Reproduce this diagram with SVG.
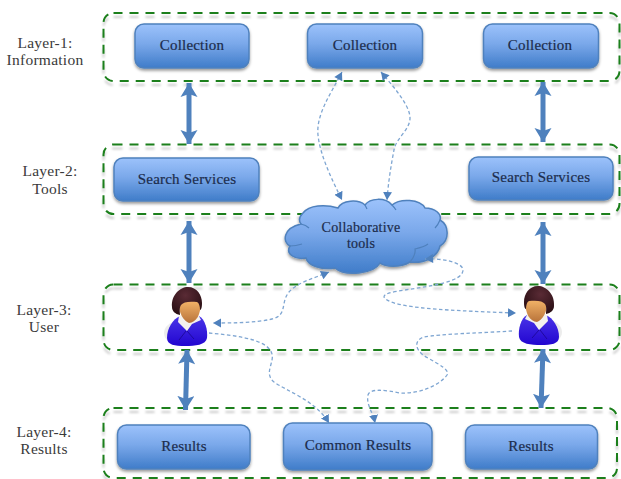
<svg xmlns="http://www.w3.org/2000/svg" xmlns:xlink="http://www.w3.org/1999/xlink" width="621" height="479" viewBox="0 0 621 479">
<style>
text{font-family:"Liberation Serif","Times New Roman",serif;text-anchor:middle}
.lbl{font-size:15.5px;fill:#3a3a3a;letter-spacing:.25px}
.nt{font-size:15px;fill:#1c2c4c;letter-spacing:.2px;stroke:#1c2c4c;stroke-width:.2px}
.layer{fill:none;stroke:#1b7f1b;stroke-width:2;stroke-dasharray:9 7;filter:url(#ls)}
.box{fill:url(#bg);stroke:#4f81bd;stroke-width:1.5;filter:url(#ds)}
.thick{fill:none;stroke:#4f81bd;stroke-width:5;marker-start:url(#hs);marker-end:url(#he)}
.dash{fill:none;stroke:#7fa6d2;stroke-width:1.3;stroke-dasharray:3.5 2.5}
</style>
<defs>
<linearGradient id="bg" x1="0" y1="0" x2="0" y2="1"><stop offset="0" stop-color="#9cc2fb"/><stop offset=".45" stop-color="#7aa8ea"/><stop offset="1" stop-color="#3f7cc9"/></linearGradient>
<linearGradient id="body" x1="0" y1="0" x2="0" y2="1"><stop offset="0" stop-color="#4a35e8"/><stop offset="1" stop-color="#2205d0"/></linearGradient>
<linearGradient id="face" x1="0" y1="0" x2="0" y2="1"><stop offset="0" stop-color="#f5b66a"/><stop offset="1" stop-color="#b8733a"/></linearGradient>
<radialGradient id="hair" cx=".45" cy=".3" r=".7"><stop offset="0" stop-color="#5a2b35"/><stop offset="1" stop-color="#2a0f14"/></radialGradient>
<filter id="ds" x="-10%" y="-15%" width="120%" height="135%"><feDropShadow dx="0" dy="2" stdDeviation="1.6" flood-color="#000" flood-opacity=".4"/></filter>
<filter id="ls" x="-2%" y="-10%" width="104%" height="125%"><feDropShadow dx="0" dy="4" stdDeviation="1.2" flood-color="#000" flood-opacity=".2"/></filter>
<marker id="he" markerUnits="userSpaceOnUse" markerWidth="18" markerHeight="18" refX="14" refY="8.500" orient="auto"><path d="M0 0L14 8.500L0 17L3 8.500Z" fill="#4f81bd"/></marker>
<marker id="hs" markerUnits="userSpaceOnUse" markerWidth="18" markerHeight="18" refX="0" refY="8.500" orient="auto"><path d="M14 0L0 8.500L14 17L11 8.500Z" fill="#4f81bd"/></marker>
<marker id="de" markerUnits="userSpaceOnUse" markerWidth="10" markerHeight="10" refX="8" refY="4.500" orient="auto"><path d="M0 0L8 4.500L0 9Z" fill="#4f81bd"/></marker>
<marker id="ds2" markerUnits="userSpaceOnUse" markerWidth="10" markerHeight="10" refX="0" refY="4.500" orient="auto"><path d="M8 0L0 4.500L8 9Z" fill="#4f81bd"/></marker>
<g id="person">
<ellipse cx="-4" cy="29" rx="19" ry="13" fill="#ececec"/>
<path d="M-20 34C-20 24-14 15-7 12L12 12C18 15 21 26 20 34C19 41 8 42-2 42C-12 42-20 41-20 34Z" fill="url(#body)"/>
<path d="M-8 12L-9 18L0 27L5 20L14 16L11 10L2 16L-3 9Z" fill="#f4f2ee"/>
<path d="M-1 27L-8 36M0 27L7 35" stroke="#1a0590" stroke-width=".8" fill="none"/>
<path d="M-8-4C-9 10-3 17 2 19C9 18 14 12 14-4Z" fill="url(#face)"/>
<path d="M-15 3C-16-9-7-17 1-17C10-17 15-9 15-1C15 4 14 6 13 6C13 2 12-1 10-2C2-3-4-2-6 1C-8 4-7 8-7 11C-12 10-15 7-15 3Z" fill="url(#hair)"/>
</g>
</defs>

<g id="layer-1"><rect class="layer" x="103.500" y="13" width="516" height="68" rx="10"/></g>
<g id="layer-2"><rect class="layer" x="103.500" y="144.500" width="516" height="69.500" rx="10"/></g>
<g id="layer-3"><rect class="layer" x="103.500" y="284.500" width="516" height="65.500" rx="10"/></g>
<g id="layer-4"><rect class="layer" x="103.500" y="408" width="513.500" height="70" rx="10"/></g>

<g id="label-1"><text class="lbl" x="45" y="48">Layer-1:</text><text class="lbl" x="45" y="65">Information</text></g>
<g id="label-2"><text class="lbl" x="50" y="176">Layer-2:</text><text class="lbl" x="50" y="194">Tools</text></g>
<g id="label-3"><text class="lbl" x="44" y="315">Layer-3:</text><text class="lbl" x="44" y="332">User</text></g>
<g id="label-4"><text class="lbl" x="44" y="437">Layer-4:</text><text class="lbl" x="44" y="454">Results</text></g>

<g id="collection-1"><rect class="box" x="135" y="24" width="114" height="44" rx="9"/><text class="nt" x="192" y="49.500">Collection</text></g>
<g id="collection-2"><rect class="box" x="307.500" y="24" width="115" height="44" rx="9"/><text class="nt" x="365" y="49.500">Collection</text></g>
<g id="collection-3"><rect class="box" x="483.500" y="24" width="115" height="44" rx="9"/><text class="nt" x="540" y="49.500">Collection</text></g>
<g id="search-1"><rect class="box" x="114" y="158" width="145" height="43" rx="9"/><text class="nt" x="187" y="184">Search Services</text></g>
<g id="search-2"><rect class="box" x="469" y="157" width="144" height="43" rx="9"/><text class="nt" x="541" y="182">Search Services</text></g>
<g id="results-1"><rect class="box" x="117.500" y="425" width="132.500" height="44" rx="9"/><text class="nt" x="184" y="451">Results</text></g>
<g id="common-results"><rect class="box" x="283.500" y="423" width="148.500" height="47" rx="9"/><text class="nt" x="358" y="450">Common Results</text></g>
<g id="results-2"><rect class="box" x="465.500" y="425" width="132" height="44" rx="9"/><text class="nt" x="531" y="451">Results</text></g>

<g id="cloud">
<path class="box" d="M303 213C309 205 325 204 338 208C342 200 358 199 365 205C370 198 385 197 392 205C400 198 420 199 425 208C435 208 442 214 440 220C449 225 450 240 440 246C438 256 425 264 410 262C400 268 385 267 380 263C374 274 345 277 335 268C322 270 308 266 306 258C295 260 285 254 290 246C282 242 283 228 301 224C298 220 300 216 303 213Z"/>
<path d="M301 224Q306 225 309 228M290 246Q296 246 302 244M410 262Q416 255 415 249Q424 247 428 244M392 205Q394 207 396 210M365 205Q366 207 367 209M440 220Q438 225 435 228" fill="none" stroke="#4f81bd" stroke-width="1.2"/>
<text class="nt" x="361" y="232" style="font-size:14px">Collaborative</text>
<text class="nt" x="361" y="248" style="font-size:14px">tools</text>
</g>

<g id="user-1"><use href="#person" xlink:href="#person" transform="translate(187 304)"/></g>
<g id="user-2"><use href="#person" xlink:href="#person" transform="translate(539 303) scale(-1 1)"/></g>

<g id="connectors">
<path class="thick" d="M189 83V144"/>
<path class="thick" d="M543 82V142"/>
<path class="thick" d="M189 221V283"/>
<path class="thick" d="M543 222V284"/>
<path class="thick" d="M187 350L185.500 410"/>
<path class="thick" d="M543 349L541 408"/>
<path class="dash" marker-start="url(#ds2)" marker-end="url(#de)" d="M342 72C330 95 316 115 318 135C320 155 332 180 342 200"/>
<path class="dash" marker-start="url(#ds2)" marker-end="url(#de)" d="M381 72C392 85 410 105 410 118C410 130 396 138 394 150C391 165 388 185 387 200"/>
<path class="dash" marker-start="url(#ds2)" marker-end="url(#de)" d="M329 272C315 278 298 282 289 292C280 303 288 315 272 319C255 323 232 323 213 323"/>
<path class="dash" marker-end="url(#de)" d="M209 333C230 335 262 338 270 350C278 360 262 372 274 382C288 392 315 400 329 423"/>
<path class="dash" marker-start="url(#ds2)" marker-end="url(#de)" d="M425 259C440 258 463 262 463 270C463 282 430 286 405 290C390 292 384 294 384 297C390 307 430 310 516 313"/>
<path class="dash" marker-end="url(#de)" d="M512 331C480 333 440 334 424 337C412 341 416 352 428 358C440 365 450 370 447 375C440 385 420 394 400 393C385 390 370 388 368 395C366 405 373 412 375 423"/>
</g>
</svg>
